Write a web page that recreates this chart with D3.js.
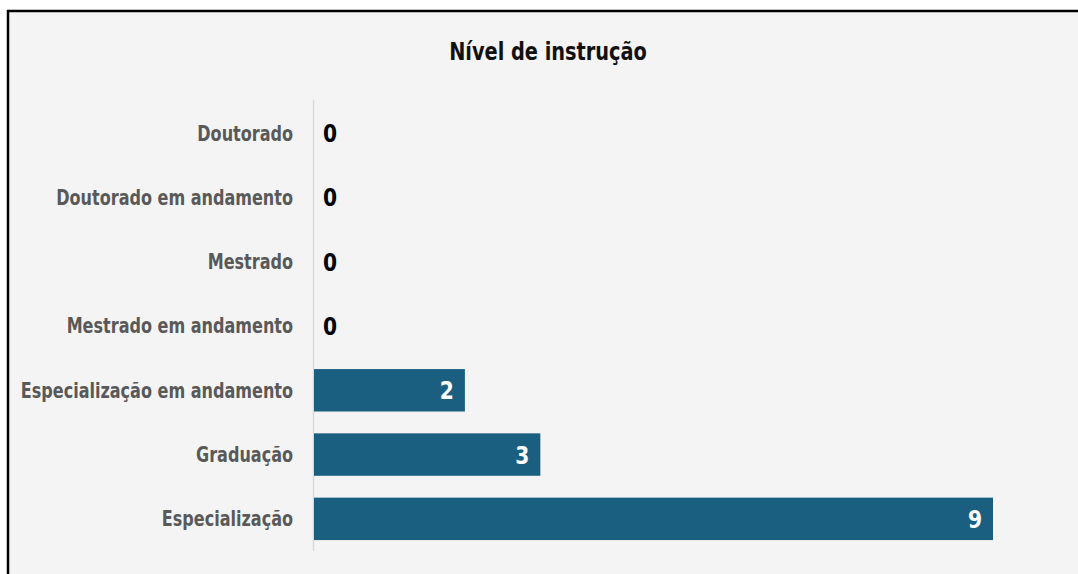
<!DOCTYPE html>
<html>
<head>
<meta charset="utf-8">
<script src="https://cdn.jsdelivr.net/npm/d3@7"></script>
<style>
  body { margin: 0; background: #ffffff; }
  svg { display: block; }
  text { font-family: "DejaVu Sans Condensed", "Liberation Sans Narrow", sans-serif; }
</style>
</head>
<body>
<svg id="chart"></svg>
<script>
var w = 1078;
var h = 574;

var categories = ["Doutorado", "Doutorado em andamento", "Mestrado", "Mestrado em andamento",
                  "Especialização em andamento", "Graduação", "Especialização"];
var counts = [0, 0, 0, 0, 2, 3, 9];
var title = "Nível de instrução";

var svg = d3.select("#chart")
    .attr("width", w)
    .attr("height", h);

// panel background, border only on top and left
svg.append("rect")
    .attr("x", 8).attr("y", 11)
    .attr("width", w - 8).attr("height", h - 11)
    .attr("fill", "#f4f4f4");
svg.append("line")
    .attr("x1", 8).attr("x2", 8).attr("y1", 10).attr("y2", h)
    .attr("stroke", "#000").attr("stroke-width", 2.5);
svg.append("line")
    .attr("x1", 7).attr("x2", w).attr("y1", 11).attr("y2", 11)
    .attr("stroke", "#000").attr("stroke-width", 2.5);

var x = d3.scaleLinear()
    .domain([0, 9])
    .range([314, 993]);

var y = d3.scaleBand()
    .domain(categories)
    .range([101, 551])
    .paddingInner(0.34)
    .paddingOuter(0.17);

// condensed look: squeeze the text horizontally
svg.append("text")
    .attr("transform", "translate(548,60) scale(0.86,1)")
    .attr("text-anchor", "middle")
    .style("font-size", "25px")
    .style("font-weight", "bold")
    .attr("fill", "#111")
    .text(title);

svg.append("line")
    .attr("x1", 313.5).attr("x2", 313.5)
    .attr("y1", 100).attr("y2", 551)
    .attr("stroke", "#d9d9d9").attr("stroke-width", 1.5);

svg.selectAll("rect.bar")
    .data(counts)
    .enter()
    .append("rect")
    .attr("class", "bar")
    .attr("x", x(0))
    .attr("y", function(d, i){ return y(categories[i]); })
    .attr("width", function(d){ return x(d) - x(0); })
    .attr("height", y.bandwidth())
    .attr("fill", "#1a5e80");

svg.selectAll("text.cat")
    .data(categories)
    .enter()
    .append("text")
    .attr("class", "cat")
    .attr("transform", function(d){
        return "translate(293," + (y(d) + y.bandwidth() / 2) + ") scale(0.85,1)";
    })
    .attr("dy", "0.35em")
    .attr("text-anchor", "end")
    .style("font-size", "21px")
    .style("font-weight", "bold")
    .attr("fill", "#595959")
    .text(function(d){ return d; });

svg.selectAll("text.val")
    .data(counts)
    .enter()
    .append("text")
    .attr("class", "val")
    .attr("transform", function(d, i){
        var tx = d == 0 ? x(0) + 9 : x(d) - 11;
        return "translate(" + tx + "," + (y(categories[i]) + y.bandwidth() / 2) + ") scale(0.9,1)";
    })
    .attr("dy", "0.36em")
    .attr("text-anchor", function(d){ return d == 0 ? "start" : "end"; })
    .style("font-size", "25px")
    .style("font-weight", "bold")
    .attr("fill", function(d){ return d == 0 ? "#000" : "#fff"; })
    .text(function(d){ return d; });
</script>
</body>
</html>
